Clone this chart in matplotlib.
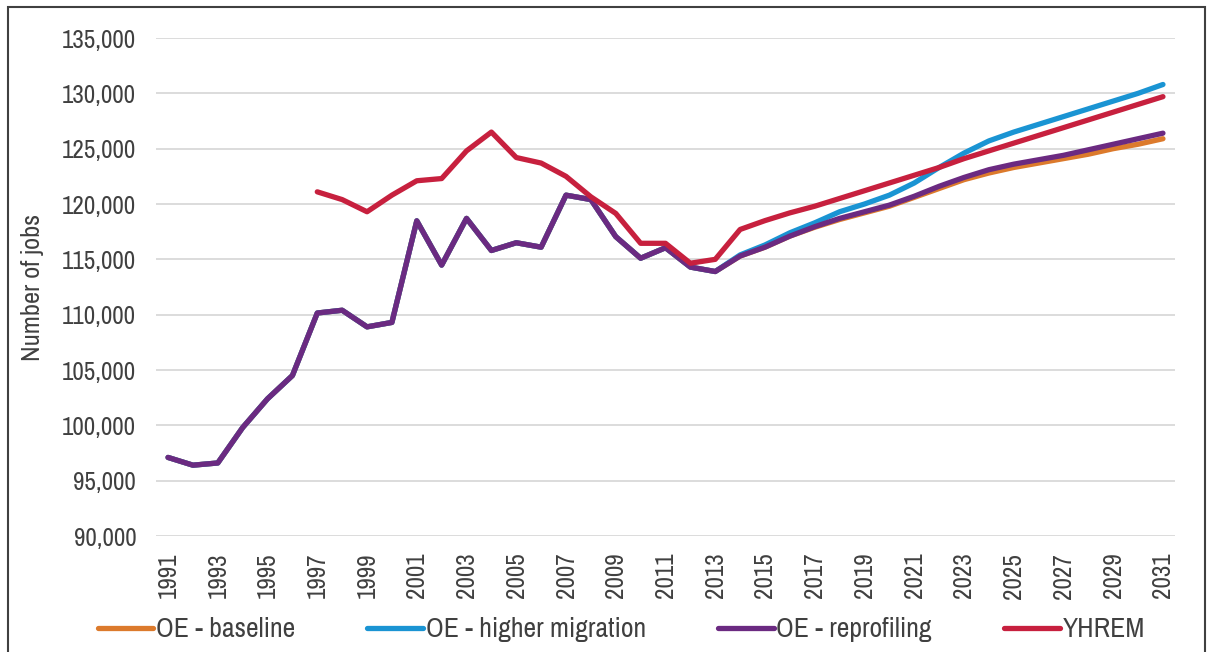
import matplotlib
matplotlib.use('Agg')
import matplotlib.pyplot as plt
from matplotlib.patches import Rectangle
from matplotlib.ticker import FuncFormatter, MultipleLocator

plt.rcParams['font.family'] = ['Arial Narrow', 'Liberation Sans Narrow', 'Archivo Narrow',
                               'Roboto Condensed', 'PT Sans Narrow', 'DejaVu Sans']

years = list(range(1991, 2032))

# shared history 1991-2013 (all OE scenarios identical)
oe_hist = [97100, 96400, 96600, 99800, 102400, 104500, 110150, 110400, 108900, 109300,
           118480, 114480, 118700, 115800, 116500, 116100, 120800, 120400, 117050, 115100,
           116050, 114300, 113900]

baseline_proj = [115300, 116100, 117100, 117900, 118600, 119200, 119800, 120600, 121400,
                 122200, 122800, 123300, 123700, 124100, 124500, 125000, 125400, 125900]
higher_mig_proj = [115400, 116300, 117400, 118300, 119300, 120000, 120800, 121900, 123300,
                   124600, 125700, 126500, 127200, 127900, 128600, 129300, 130000, 130800]
reprofiling_proj = [115300, 116100, 117100, 117950, 118700, 119300, 119900, 120700, 121600,
                    122400, 123100, 123600, 124000, 124400, 124900, 125400, 125900, 126400]

oe_baseline = oe_hist + baseline_proj
oe_higher = oe_hist + higher_mig_proj
oe_reprof = oe_hist + reprofiling_proj

yhrem_years = list(range(1997, 2032))
yhrem = [121100, 120400, 119300, 120800, 122100, 122300, 124800, 126500, 124200, 123700,
         122500, 120650, 119150, 116450, 116450, 114650, 115000, 117700, 118500, 119200,
         119800, 120500, 121200, 121900, 122600, 123300, 124100, 124800, 125500, 126200,
         126900, 127600, 128300, 129000, 129700]

fig = plt.figure(figsize=(12.11, 6.52), dpi=100)
ax = fig.add_axes([0.1285, 0.1779, 0.8421, 0.7638])

lw = 3.8
ax.plot(years, oe_baseline, color='#DC7A2C', lw=lw, solid_capstyle='round', label='OE - baseline', zorder=3)
ax.plot(years, oe_higher, color='#1A94D3', lw=lw, solid_capstyle='round', label='OE - higher migration', zorder=4)
ax.plot(years, oe_reprof, color='#6B2A81', lw=lw, solid_capstyle='round', label='OE - reprofiling', zorder=5)
ax.plot(yhrem_years, yhrem, color='#C7203E', lw=lw, solid_capstyle='round', label='YHREM', zorder=6)

ax.set_xlim(1990.5, 2031.5)
ax.set_ylim(90000, 135000)
ax.yaxis.set_major_locator(MultipleLocator(5000))
ax.yaxis.set_major_formatter(FuncFormatter(lambda v, p: f'{int(v):,}'))
ax.set_xticks(years[::2])
ax.set_xticklabels([str(y) for y in years[::2]], rotation=90)
ax.grid(axis='y', color='#d9d9d9', lw=1.3, zorder=0)
ax.set_axisbelow(True)
for s in ax.spines.values():
    s.set_visible(False)
ax.tick_params(axis='both', length=0, labelsize=18, colors='#404040')
ax.tick_params(axis='y', pad=14)
ax.tick_params(axis='x', pad=12)

fig.text(33 / 1211, 1 - 287 / 652, 'Number of jobs', rotation=90, ha='center', va='center',
         fontsize=19, color='#404040')

fig.legend(loc='center', bbox_to_anchor=(0.513, 0.034), ncol=4, frameon=False,
           fontsize=20, handlelength=2.0, handletextpad=0.1, columnspacing=2.6,
           labelcolor='#404040')

# outer frame
fig.patches.append(Rectangle((8 / 1211, -0.05), (1205 - 8) / 1211, 1.05 - 6.5 / 652,
                             transform=fig.transFigure, fill=False, edgecolor='#404040',
                             lw=1.5, zorder=10))

fig.savefig('out.png', dpi=100)
